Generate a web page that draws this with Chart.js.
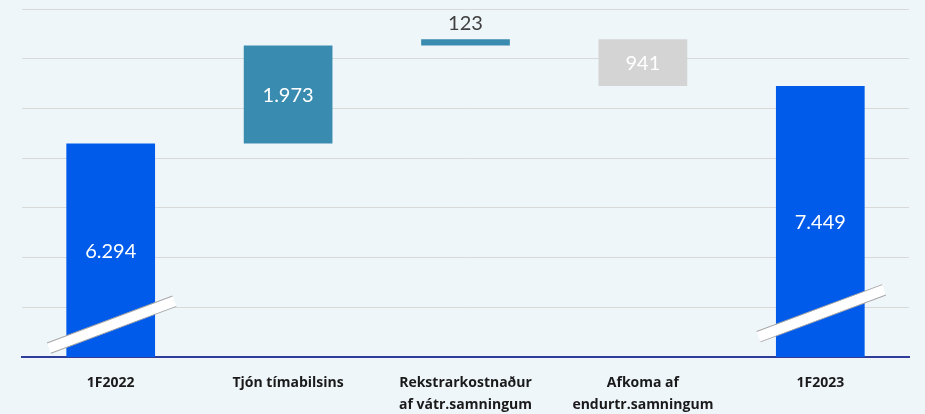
<!DOCTYPE html>
<html>
<head>
<meta charset="utf-8">
<script src="https://cdn.jsdelivr.net/npm/chart.js@4.4.1/dist/chart.umd.min.js"></script>
<style>
  html, body { margin: 0; padding: 0; background: #eff6fa; }
  #wrap { width: 925px; height: 414px; }
</style>
</head>
<body>
<div id="wrap"><canvas id="chart" width="925" height="414"></canvas></div>
<script>
// gögn úr myndinni
var categories = ['1F2022', 'Tjón tímabilsins', ['Rekstrarkostnaður', 'af vátr.samningum'], ['Afkoma af', 'endurtr.samningum'], '1F2023'];
var changes = [6294, 1973, 123, -941, 7449];
var barKind = ['total', 'step', 'step', 'step', 'total'];
var valueLabels = ['6.294', '1.973', '123', '941', '7.449'];
var axisMin = 2000;
var axisMax = 9000;
var breakValues = [2650, null, null, null, 2880];

var colors = { total: '#005bea', up: '#3a8bb0', down: '#d4d4d4' };

// byggja fljótandi stöplana
var floating = [];
var barColors = [];
var running = 0;
for (var i = 0; i < changes.length; i++) {
    if (barKind[i] == 'total') {
        running = changes[i];
        floating.push([axisMin, running]);
        barColors.push(colors.total);
    } else {
        var start = running;
        running = running + changes[i];
        floating.push([Math.min(start, running), Math.max(start, running)]);
        barColors.push(changes[i] >= 0 ? colors.up : colors.down);
    }
}

var bgPlugin = {
    id: 'bg',
    beforeDraw: function (chart) {
        var ctx = chart.ctx;
        ctx.save();
        ctx.fillStyle = '#eff6fa';
        ctx.fillRect(0, 0, chart.width, chart.height);
        ctx.restore();
    }
};

var labelPlugin = {
    id: 'labels',
    afterDatasetsDraw: function (chart) {
        var ctx = chart.ctx;
        var meta = chart.getDatasetMeta(0);
        var y = chart.scales.y;
        ctx.save();

        // brot í ás
        meta.data.forEach(function (bar, i) {
            if (breakValues[i] == null) return;
            var cy = y.getPixelForValue(breakValues[i]);
            ctx.save();
            ctx.translate(bar.x + 1, cy);
            ctx.rotate(-20.5 * Math.PI / 180);
            ctx.fillStyle = '#ffffff';
            ctx.fillRect(-67, -5.5, 134, 11);
            ctx.strokeStyle = '#a6a6a6';
            ctx.lineWidth = 1;
            ctx.beginPath();
            ctx.moveTo(-67, -5.5); ctx.lineTo(67, -5.5);
            ctx.moveTo(-67, 5.5); ctx.lineTo(67, 5.5);
            ctx.stroke();
            ctx.restore();
        });

        ctx.font = '20px Lato, "Open Sans", sans-serif';
        ctx.textAlign = 'center';
        ctx.textBaseline = 'middle';
        meta.data.forEach(function (bar, i) {
            var top = Math.min(bar.y, bar.base);
            var bottom = Math.max(bar.y, bar.base);
            if (bottom - top < 30) {
                ctx.fillStyle = '#404040';
                ctx.fillText(valueLabels[i], bar.x, top - 16);
            } else {
                ctx.fillStyle = '#ffffff';
                ctx.fillText(valueLabels[i], bar.x, (top + bottom) / 2 + 1);
            }
        });
        ctx.restore();
    }
};

var chart = new Chart(document.getElementById('chart').getContext('2d'), {
    type: 'bar',
    data: {
        labels: categories,
        datasets: [{
            data: floating,
            backgroundColor: barColors,
            borderWidth: 0,
            barPercentage: 0.5,
            categoryPercentage: 1.0
        }]
    },
    options: {
        responsive: false,
        animation: false,
        layout: { padding: { left: 22, right: 16, top: 9, bottom: 0 } },
        plugins: {
            legend: { display: false },
            tooltip: { enabled: false }
        },
        scales: {
            x: {
                grid: { display: false },
                border: { display: true, color: '#2f3c98', width: 2 },
                ticks: {
                    color: '#1a1a1a',
                    font: { family: '"Open Sans", Lato, sans-serif', size: 14, weight: 'bold', lineHeight: 1.55 },
                    padding: 7,
                    maxRotation: 0,
                    autoSkip: false
                },
                afterFit: function (scale) { scale.height = 57; }
            },
            y: {
                min: axisMin,
                max: axisMax,
                ticks: { display: false, stepSize: 1000 },
                grid: { color: '#d9d9d9', lineWidth: 1, drawTicks: false },
                border: { display: false },
                afterFit: function (scale) { scale.width = 0; }
            }
        }
    },
    plugins: [bgPlugin, labelPlugin]
});
</script>
</body>
</html>
